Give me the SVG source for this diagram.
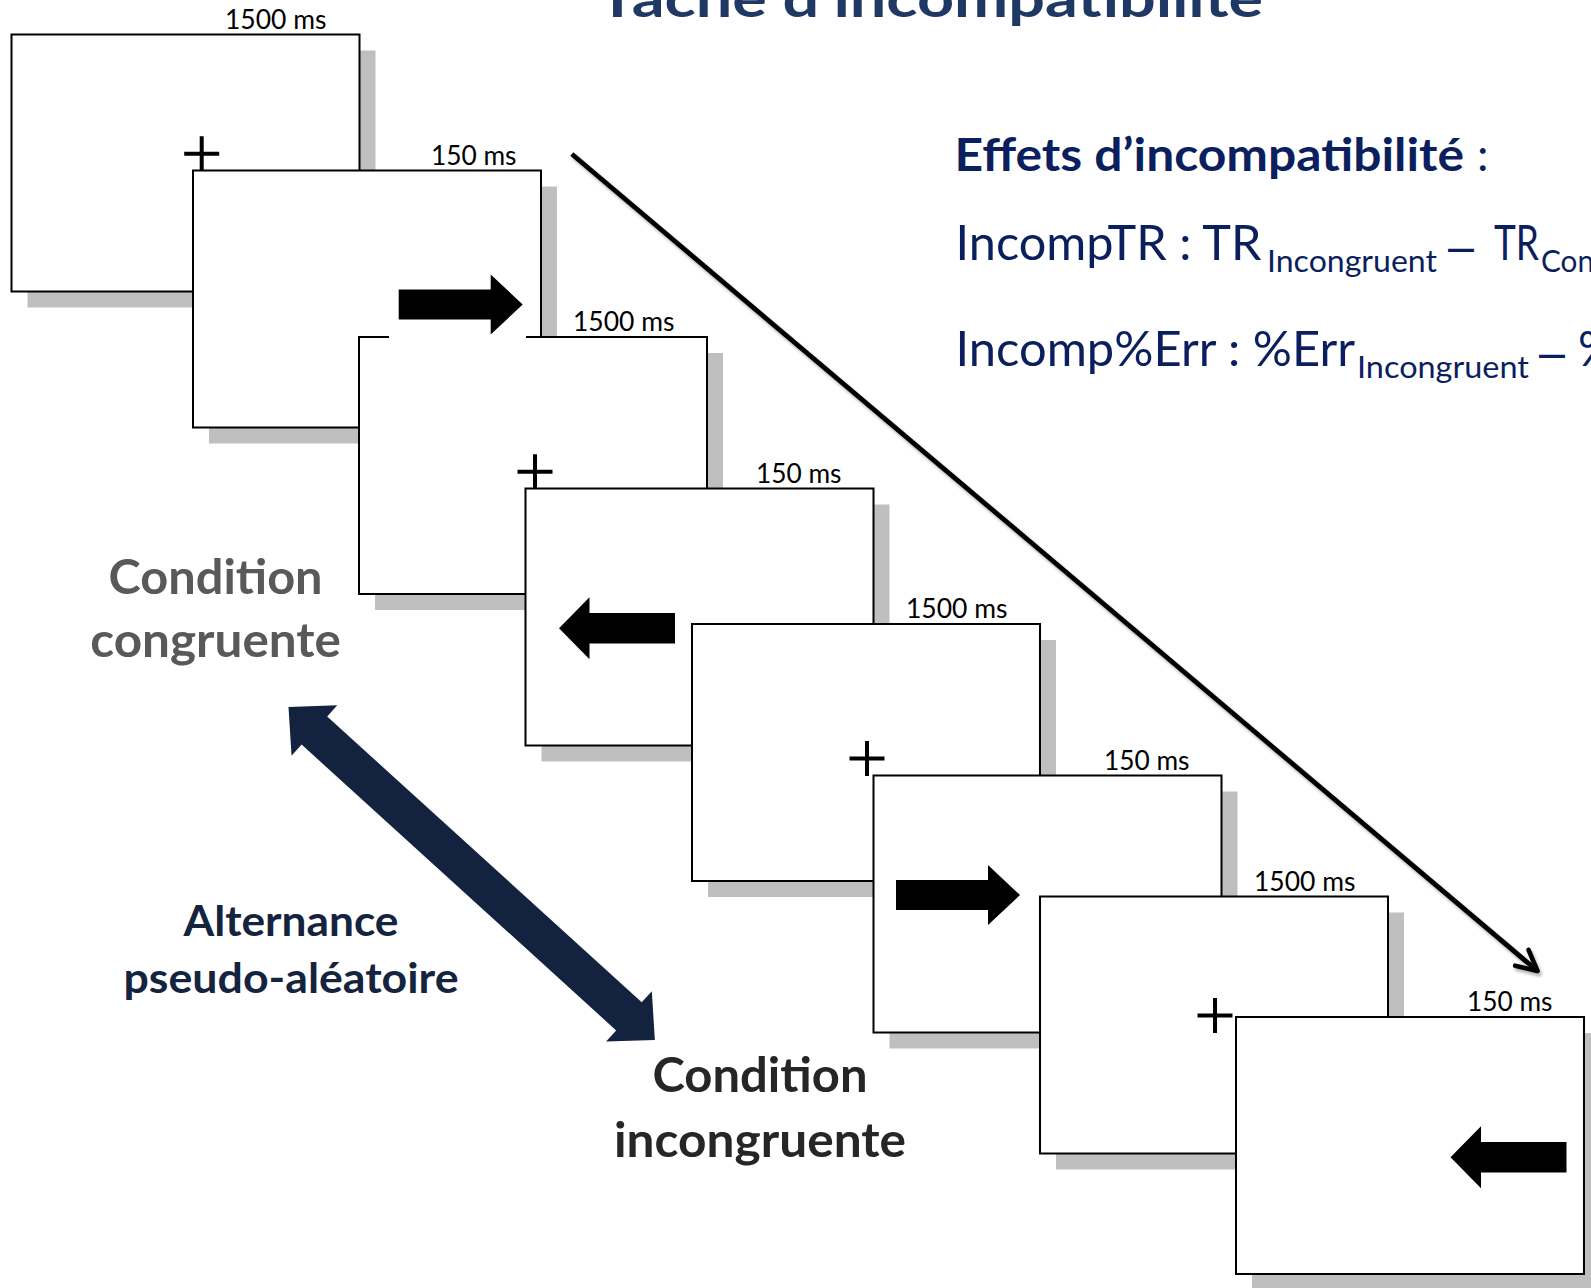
<svg xmlns="http://www.w3.org/2000/svg" width="1591" height="1288" viewBox="0 0 1591 1288">
<style>
text{font-family:Lato,"Open Sans","Liberation Sans",sans-serif}
.sh{fill:#bfbfbf}
.fr{fill:#fff;stroke:#000;stroke-width:2}
.ms{font-size:26px;fill:#000}
.cross{fill:none;stroke:#000;stroke-width:4}
.stim{fill:#000}
.bg{fill:#fff}
.ttl{font-weight:700;font-size:52px;fill:#1f3864}
.hd{font-weight:700;font-size:46px;fill:#0b1f5e}
.hdc{font-size:46px;fill:#0b1f5e}
.eq{font-size:47.5px;fill:#0b1f5e}
text.dash{font-family:"Liberation Sans",Arial,sans-serif;font-size:47.5px;fill:#0b1f5e}
.sub{font-size:31px;fill:#0b1f5e}
.cond1{font-weight:700;font-size:47.5px;fill:#595959}
.cond2{font-weight:700;font-size:47.5px;fill:#262626}
.alt{font-weight:700;font-size:42.5px;fill:#14243f}
</style>
<defs>
<path id="cross" class="cross" d="M-17.5 0H17.5M0 -17.5V17.5"/>
<path id="arrR" class="stim" d="M0 0L-32 -30L-32 -15L-124 -15L-124 15L-32 15L-32 30Z"/>
<path id="arrL" class="stim" d="M0 0L30.5 -31L30.5 -15.3L116 -15.3L116 15.3L30.5 15.3L30.5 31Z"/>
<marker id="openArrow" markerUnits="userSpaceOnUse" viewBox="-25 -15 30 30" refX="0" refY="0" markerWidth="30" markerHeight="30" orient="auto">
<path d="M-20.5 -10.4L0 0L-20.5 10.4" fill="none" stroke="#000" stroke-width="4.6" stroke-linecap="round" stroke-linejoin="round"/>
</marker>
<filter id="dshadow" x="-5%" y="-5%" width="110%" height="110%">
<feDropShadow dx="2" dy="3" stdDeviation="1.8" flood-color="#000" flood-opacity="0.3"/>
</filter>
</defs>

<g id="title">
<text class="ttl" x="598" y="17" textLength="665" lengthAdjust="spacingAndGlyphs">Tâche d’incompatibilité</text>
</g>

<g id="frame1">
<rect class="sh" x="27.5" y="50.5" width="348" height="257"/>
<rect class="fr" x="11.5" y="34.5" width="348" height="257"/>
<use href="#cross" x="201.7" y="153.7"/>
<text class="ms" x="225" y="28.5" textLength="101.5" lengthAdjust="spacingAndGlyphs">1500 ms</text>
</g>

<g id="frame2">
<rect class="sh" x="209" y="186.5" width="348" height="257"/>
<rect class="fr" x="193" y="170.5" width="348" height="257"/>
<text class="ms" x="431" y="164.5" textLength="85.5" lengthAdjust="spacingAndGlyphs">150 ms</text>
</g>

<g id="frame3">
<rect class="sh" x="375" y="353" width="348" height="257"/>
<rect class="fr" x="359" y="337" width="348" height="257"/>
<use href="#cross" x="535" y="471.7"/>
<text class="ms" x="573" y="331" textLength="101.5" lengthAdjust="spacingAndGlyphs">1500 ms</text>
</g>

<g id="frame2-stimulus">
<rect class="bg" x="389" y="262" width="137" height="77.5"/>
<use href="#arrR" x="522.7" y="304.5"/>
</g>

<g id="frame4">
<rect class="sh" x="541.5" y="504.5" width="348" height="257"/>
<rect class="fr" x="525.5" y="488.5" width="348" height="257"/>
<use href="#arrL" x="559" y="628.2"/>
<text class="ms" x="756" y="482.5" textLength="85.5" lengthAdjust="spacingAndGlyphs">150 ms</text>
</g>

<g id="frame5">
<rect class="sh" x="708" y="640" width="348" height="257"/>
<rect class="fr" x="692" y="624" width="348" height="257"/>
<use href="#cross" x="867" y="758.5"/>
<text class="ms" x="906" y="618" textLength="101.5" lengthAdjust="spacingAndGlyphs">1500 ms</text>
</g>

<g id="frame6">
<rect class="sh" x="889.5" y="791.5" width="348" height="257"/>
<rect class="fr" x="873.5" y="775.5" width="348" height="257"/>
<use href="#arrR" x="1020" y="895"/>
<text class="ms" x="1104" y="769.5" textLength="85.5" lengthAdjust="spacingAndGlyphs">150 ms</text>
</g>

<g id="frame7">
<rect class="sh" x="1056" y="912.5" width="348" height="257"/>
<rect class="fr" x="1040" y="896.5" width="348" height="257"/>
<use href="#cross" x="1215" y="1015.5"/>
<text class="ms" x="1254" y="890.5" textLength="101.5" lengthAdjust="spacingAndGlyphs">1500 ms</text>
</g>

<g id="frame8">
<rect class="sh" x="1252" y="1033" width="348" height="257"/>
<rect class="fr" x="1236" y="1017" width="348" height="257"/>
<use href="#arrL" x="1450.5" y="1157.3"/>
<text class="ms" x="1467" y="1011" textLength="85.5" lengthAdjust="spacingAndGlyphs">150 ms</text>
</g>

<g id="effects">
<text class="hd" x="954.5" y="170.5" textLength="509.5" lengthAdjust="spacingAndGlyphs">Effets d’incompatibilité</text>
<text class="hdc" x="1477" y="170.5">:</text>
<text class="eq" x="955.5" y="259.5" textLength="306" lengthAdjust="spacingAndGlyphs">IncompTR : TR</text>
<text class="sub" x="1267" y="272" textLength="170" lengthAdjust="spacingAndGlyphs">Incongruent</text>
<text class="dash" x="1448" y="262.5" textLength="26" lengthAdjust="spacingAndGlyphs">–</text>
<text class="eq" x="1494" y="259.5" textLength="45" lengthAdjust="spacingAndGlyphs">TR</text>
<text class="sub" x="1541" y="272" textLength="53" lengthAdjust="spacingAndGlyphs">Con</text>
<text class="eq" x="955.5" y="366" textLength="399.5" lengthAdjust="spacingAndGlyphs">Incomp%Err : %Err</text>
<text class="sub" x="1357" y="378" textLength="172" lengthAdjust="spacingAndGlyphs">Incongruent</text>
<text class="dash" x="1539" y="369" textLength="26" lengthAdjust="spacingAndGlyphs">–</text>
<text class="eq" x="1578" y="366">%</text>
</g>

<g id="condition-congruente">
<text class="cond1" x="215.6" y="593.5" text-anchor="middle" textLength="214" lengthAdjust="spacingAndGlyphs">Condition</text>
<text class="cond1" x="215.6" y="656.5" text-anchor="middle" textLength="250.7" lengthAdjust="spacingAndGlyphs">congruente</text>
</g>

<g id="condition-incongruente">
<text class="cond2" x="760" y="1092" text-anchor="middle" textLength="215" lengthAdjust="spacingAndGlyphs">Condition</text>
<text class="cond2" x="760" y="1157" text-anchor="middle" textLength="292" lengthAdjust="spacingAndGlyphs">incongruente</text>
</g>

<g id="alternance">
<text class="alt" x="291" y="935.5" text-anchor="middle" textLength="215" lengthAdjust="spacingAndGlyphs">Alternance</text>
<text class="alt" x="291" y="992.5" text-anchor="middle" textLength="335" lengthAdjust="spacingAndGlyphs">pseudo-aléatoire</text>
</g>

<g id="connectors">
<line x1="571.8" y1="154" x2="1537.5" y2="971" stroke="#000" stroke-width="4.8" marker-end="url(#openArrow)" filter="url(#dshadow)"/>
<polygon fill="#13233f" transform="translate(288.5 707) rotate(42.26)" points="0,0 35,-34 35,-19 460,-19 460,-34 495,0 460,34 460,19 35,19 35,34"/>
</g>
</svg>
